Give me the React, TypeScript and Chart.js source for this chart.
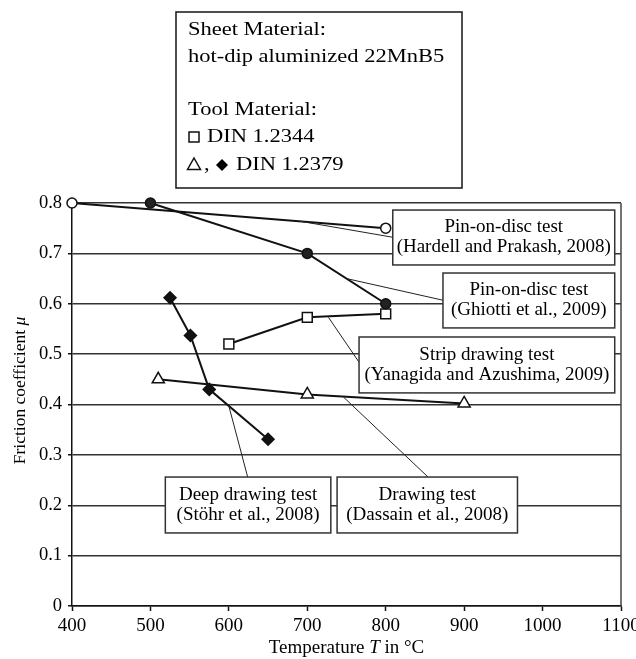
import React, { useEffect, useRef } from "react";
import { Chart, registerables } from "chart.js";

Chart.register(...registerables);

const FONT = "'Liberation Serif', 'Times New Roman', serif";

// ---- data (temperature in °C, friction coefficient) ----
const hardellT = [400, 800];
const hardellMu = [0.8, 0.75];

const ghiottiT = [500, 700, 800];
const ghiottiMu = [0.8, 0.7, 0.6];

const yanagidaT = [600, 700, 800];
const yanagidaMu = [0.52, 0.573, 0.58];

const dassainT = [510, 700, 900];
const dassainMu = [0.45, 0.42, 0.402];

const stohrT = [525, 551, 575, 650];
const stohrMu = [0.612, 0.537, 0.43, 0.331];

const xMin = 400;
const xMax = 1100;
const xStep = 100;
const yMin = 0;
const yMax = 0.8;
const yStep = 0.1;

const legendLines = [
  "Sheet Material:",
  "hot-dip aluminized 22MnB5",
  "Tool Material:",
  "DIN 1.2344",
  "DIN 1.2379",
];

const calloutText = [
  ["Pin-on-disc test", "(Hardell and Prakash, 2008)"],
  ["Pin-on-disc test", "(Ghiotti et al., 2009)"],
  ["Strip drawing test", "(Yanagida and Azushima, 2009)"],
  ["Deep drawing test", "(Stöhr et al., 2008)"],
  ["Drawing test", "(Dassain et al., 2008)"],
];

// callout boxes in data units: [left T, right T, top mu, bottom mu]
const calloutBoxes = [
  [809, 1092, 0.786, 0.677],
  [873, 1092, 0.661, 0.552],
  [766, 1092, 0.534, 0.423],
  [519, 730, 0.256, 0.145],
  [738, 968, 0.256, 0.145],
];

// leader lines in data units: [from T, from mu, to T, to mu]
const calloutLeaders = [
  [690, 0.764, 809, 0.732],
  [750, 0.65, 873, 0.607],
  [727, 0.573, 766, 0.484],
  [600, 0.397, 624, 0.256],
  [746, 0.415, 854, 0.256],
];

function pts(t: number[], m: number[]) {
  return t.map((x, i) => ({ x, y: m[i] }));
}

function drawPieces(
  ctx: CanvasRenderingContext2D,
  pieces: { t: string; italic?: boolean }[],
  size: number,
  cx: number,
  cy: number
) {
  const fonts = pieces.map((p) => `${p.italic ? "italic " : ""}${size}px ${FONT}`);
  let total = 0;
  const widths = pieces.map((p, i) => {
    ctx.font = fonts[i];
    const w = ctx.measureText(p.t).width;
    total += w;
    return w;
  });
  let x = cx - total / 2;
  ctx.textAlign = "left";
  ctx.textBaseline = "middle";
  pieces.forEach((p, i) => {
    ctx.font = fonts[i];
    ctx.fillText(p.t, x, cy);
    x += widths[i];
  });
}

function stretched(ctx: CanvasRenderingContext2D, text: string, x: number, y: number, sx: number) {
  ctx.save();
  ctx.translate(x, y);
  ctx.scale(sx, 1);
  ctx.fillText(text, 0, 0);
  ctx.restore();
}

const decorPlugin = {
  id: "decor",
  beforeDatasetsDraw(chart: any) {
    const { ctx, chartArea } = chart;
    ctx.save();
    ctx.strokeStyle = "#444";
    ctx.lineWidth = 1.5;
    ctx.beginPath();
    ctx.moveTo(chartArea.right, chartArea.top);
    ctx.lineTo(chartArea.right, chartArea.bottom);
    ctx.stroke();
    ctx.restore();
  },
  afterDatasetsDraw(chart: any) {
    const { ctx } = chart;
    const xs = chart.scales.x;
    const ys = chart.scales.y;
    ctx.save();
    // leaders
    ctx.strokeStyle = "#222";
    ctx.lineWidth = 1;
    calloutLeaders.forEach((l) => {
      ctx.beginPath();
      ctx.moveTo(xs.getPixelForValue(l[0]), ys.getPixelForValue(l[1]));
      ctx.lineTo(xs.getPixelForValue(l[2]), ys.getPixelForValue(l[3]));
      ctx.stroke();
    });
    // boxes
    calloutBoxes.forEach((b, i) => {
      const x0 = xs.getPixelForValue(b[0]);
      const x1 = xs.getPixelForValue(b[1]);
      const y0 = ys.getPixelForValue(b[2]);
      const y1 = ys.getPixelForValue(b[3]);
      ctx.fillStyle = "#fff";
      ctx.fillRect(x0, y0, x1 - x0, y1 - y0);
      ctx.strokeStyle = "#333";
      ctx.lineWidth = 1.5;
      ctx.strokeRect(x0, y0, x1 - x0, y1 - y0);
      ctx.fillStyle = "#000";
      ctx.font = `19px ${FONT}`;
      ctx.textAlign = "center";
      ctx.textBaseline = "middle";
      const cx = (x0 + x1) / 2;
      const cy = (y0 + y1) / 2;
      ctx.fillText(calloutText[i][0], cx, cy - 10);
      ctx.fillText(calloutText[i][1], cx, cy + 10);
    });
    ctx.restore();
  },
  afterDraw(chart: any) {
    const { ctx, chartArea } = chart;
    ctx.save();
    ctx.fillStyle = "#000";
    // axis titles
    drawPieces(
      ctx,
      [{ t: "Temperature " }, { t: "T", italic: true }, { t: " in °C" }],
      19,
      (chartArea.left + chartArea.right) / 2,
      648
    );
    ctx.save();
    ctx.translate(20, (chartArea.top + chartArea.bottom) / 2 - 14);
    ctx.rotate(-Math.PI / 2);
    drawPieces(ctx, [{ t: "Friction coefficient " }, { t: "μ", italic: true }], 17.5, 0, 0);
    ctx.restore();

    // legend box
    const lx = 176, ly = 12, lw = 286, lh = 176;
    ctx.fillStyle = "#fff";
    ctx.fillRect(lx, ly, lw, lh);
    ctx.strokeStyle = "#222";
    ctx.lineWidth = 1.6;
    ctx.strokeRect(lx, ly, lw, lh);
    ctx.fillStyle = "#000";
    ctx.font = `18px ${FONT}`;
    ctx.textAlign = "left";
    ctx.textBaseline = "middle";
    const sx = 1.25;
    stretched(ctx, legendLines[0], 188, 30, sx);
    stretched(ctx, legendLines[1], 188, 57, sx);
    stretched(ctx, legendLines[2], 188, 110, sx);
    // square
    ctx.lineWidth = 1.5;
    ctx.strokeStyle = "#111";
    ctx.strokeRect(189, 132, 10, 10);
    stretched(ctx, legendLines[3], 207, 137, sx);
    // triangle
    ctx.beginPath();
    ctx.moveTo(194, 158);
    ctx.lineTo(200.5, 169.5);
    ctx.lineTo(187.5, 169.5);
    ctx.closePath();
    ctx.stroke();
    stretched(ctx, ",", 204, 165, sx);
    // diamond
    ctx.beginPath();
    ctx.moveTo(222, 159);
    ctx.lineTo(228, 165);
    ctx.lineTo(222, 171);
    ctx.lineTo(216, 165);
    ctx.closePath();
    ctx.fill();
    stretched(ctx, legendLines[4], 236, 165, sx);
    ctx.restore();
  },
};

export default function App() {
  const ref = useRef<HTMLCanvasElement>(null);
  useEffect(() => {
    document.body.style.margin = "0";
    const canvas = ref.current!;
    const lineBase = {
      showLine: true,
      borderColor: "#111",
      borderWidth: 2,
      pointBorderColor: "#111",
      pointBorderWidth: 1.5,
      clip: false as any,
    };
    const chart = new Chart(canvas, {
      type: "scatter",
      data: {
        datasets: [
          {
            ...lineBase,
            label: "Hardell and Prakash, 2008",
            data: pts(hardellT, hardellMu),
            pointStyle: "circle",
            pointRadius: 5,
            pointBackgroundColor: "#fff",
          },
          {
            ...lineBase,
            label: "Ghiotti et al., 2009",
            data: pts(ghiottiT, ghiottiMu),
            pointStyle: "circle",
            pointRadius: 5,
            pointBackgroundColor: "#222",
          },
          {
            ...lineBase,
            label: "Yanagida and Azushima, 2009",
            data: pts(yanagidaT, yanagidaMu),
            pointStyle: "rect",
            pointRadius: 7,
            pointBackgroundColor: "#fff",
          },
          {
            ...lineBase,
            label: "Dassain et al., 2008",
            data: pts(dassainT, dassainMu),
            pointStyle: "triangle",
            pointRadius: 7,
            pointBackgroundColor: "#fff",
          },
          {
            ...lineBase,
            label: "Stöhr et al., 2008",
            data: pts(stohrT, stohrMu),
            pointStyle: "rectRot",
            pointRadius: 6,
            pointBackgroundColor: "#111",
          },
        ],
      },
      options: {
        responsive: false,
        animation: false,
        devicePixelRatio: 1,
        layout: { padding: { top: 203, right: 15, left: 0, bottom: 0 } },
        plugins: { legend: { display: false }, tooltip: { enabled: false } },
        scales: {
          x: {
            type: "linear",
            min: xMin,
            max: xMax,
            ticks: {
              stepSize: xStep,
              color: "#000",
              font: { family: FONT, size: 19 },
              padding: 4,
              maxRotation: 0,
              autoSkip: false,
              callback: (v: any) => String(v),
            },
            grid: {
              drawOnChartArea: false,
              drawTicks: true,
              tickLength: 5,
              tickColor: "#111",
              tickWidth: 1.5,
            },
            border: { display: true, color: "#111", width: 1.5 },
            afterFit: (s: any) => {
              s.height = 53;
              s.paddingLeft = 0;
              s.paddingRight = 0;
            },
          },
          y: {
            type: "linear",
            min: yMin,
            max: yMax,
            ticks: {
              stepSize: yStep,
              color: "#000",
              font: { family: FONT, size: 18.5 },
              padding: 6,
              callback: (v: any) => (Number(v) === 0 ? "0" : Number(v).toFixed(1)),
            },
            grid: {
              color: "#333",
              lineWidth: 1.5,
              drawTicks: true,
              tickLength: 4,
              tickColor: "#111",
            },
            border: { display: true, color: "#111", width: 1.5 },
            afterFit: (s: any) => {
              s.width = 72;
              s.paddingTop = 0;
              s.paddingBottom = 0;
            },
          },
        },
      },
      plugins: [decorPlugin],
    });
    return () => chart.destroy();
  }, []);
  return (
    <canvas
      ref={ref}
      width={636}
      height={659}
      style={{ display: "block", width: 636, height: 659 }}
    />
  );
}
